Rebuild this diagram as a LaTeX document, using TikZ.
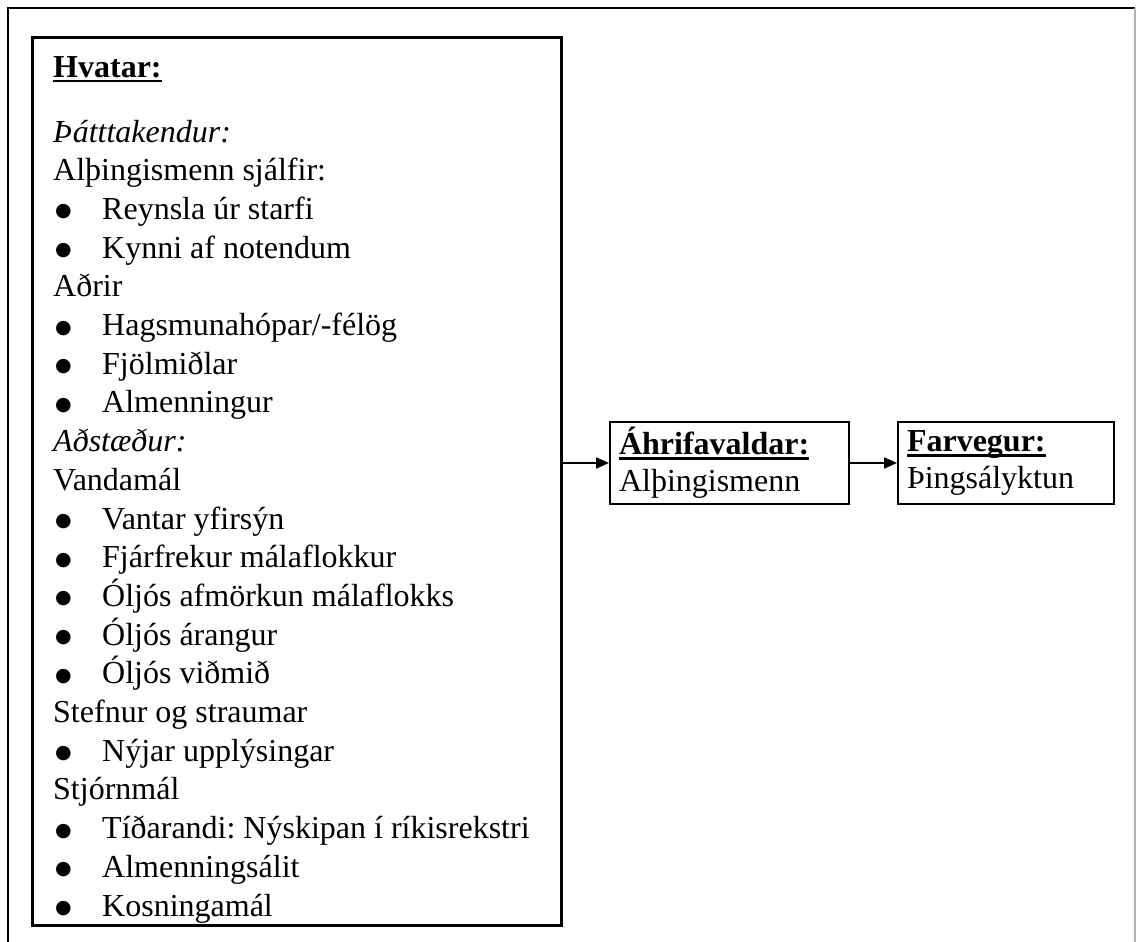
\documentclass[tikz,border=0pt]{standalone}
\usepackage{fontspec}
\setmainfont{Liberation Serif}
\newfontfamily\symfont{DejaVu Sans}
\usetikzlibrary{arrows.meta}
\frenchspacing

% underline at a fixed depth, running through descenders
\newcommand\wordul[1]{\setbox0=\hbox{#1}\rlap{\rule[-0.16em]{\wd0}{0.08em}}\box0}
% round list bullet followed by the hanging indent
\newcommand\bul{\makebox[49pt][l]{\hspace{2pt}\raisebox{2.5pt}{\symfont\fontsize{19}{19}\selectfont ●}}}

\tikzset{
  frameline/.style={line width=2pt, black},
  panel/.style={draw, line width=2pt, rectangle, inner sep=0pt},
  textblock/.style={align=left, inner sep=0pt, font=\fontsize{32}{38.7}\selectfont},
  smallbox/.style={draw, line width=2pt, rectangle, align=left, inner xsep=9pt,
    inner ysep=0pt, minimum height=82pt, anchor=north west,
    font=\fontsize{32}{37}\selectfont},
  flow/.style={line width=2pt, -{Triangle[length=13pt,width=11pt]}}
}

\begin{document}
\begin{tikzpicture}[x=1pt, y=-1pt]
\useasboundingbox (0,0) rectangle (1136,942);
\fill[white] (0,0) rectangle (1136,942);

% page frame
\draw[frameline, line width=2.5pt] (8,942) -- (8,8) -- (1135,8);
\draw[black!30, line width=1.5pt] (1135,8) -- (1135,942);

% left panel
\node[panel, anchor=north west, minimum width=528pt, minimum height=887pt] (hvatar) at (32,37) {};
\begin{scope}
  \clip (hvatar.north west) rectangle (hvatar.south east);
  % the base anchor of this block sits on its last line
  \node[textblock, anchor=base west] (hvatarlist) at (53,916) {%
    \wordul{\bfseries Hvatar:}\\[26pt]
    \textit{Þátttakendur:}\\
    Alþingismenn sjálfir:\\
    \bul Reynsla úr starfi\\
    \bul Kynni af notendum\\
    Aðrir\\
    \bul Hagsmunahópar/-félög\\
    \bul Fjölmiðlar\\
    \bul Almenningur\\
    \textit{Aðstæður:}\\
    Vandamál\\
    \bul Vantar yfirsýn\\
    \bul Fjárfrekur málaflokkur\\
    \bul Óljós afmörkun málaflokks\\
    \bul Óljós árangur\\
    \bul Óljós viðmið\\
    Stefnur og straumar\\
    \bul Nýjar upplýsingar\\
    Stjórnmál\\
    \bul Tíðarandi: Nýskipan í ríkisrekstri\\
    \bul Almenningsálit\\
    \bul Kosningamál};
\end{scope}
\draw[panel] (hvatar.north west) rectangle (hvatar.south east);

% right-hand boxes
\node[smallbox, text width=221pt] (ahrif) at (609,421)
  {\wordul{\bfseries Áhrifavaldar:}\\Alþingismenn};
\node[smallbox, text width=198pt] (farvegur) at (897,421)
  {\wordul{\bfseries Farvegur:}\\Þingsályktun};

% connectors
\draw[flow] (hvatar.east |- ahrif.west) -- (ahrif.west);
\draw[flow] (ahrif.east) -- (farvegur.west);
\end{tikzpicture}
\end{document}
